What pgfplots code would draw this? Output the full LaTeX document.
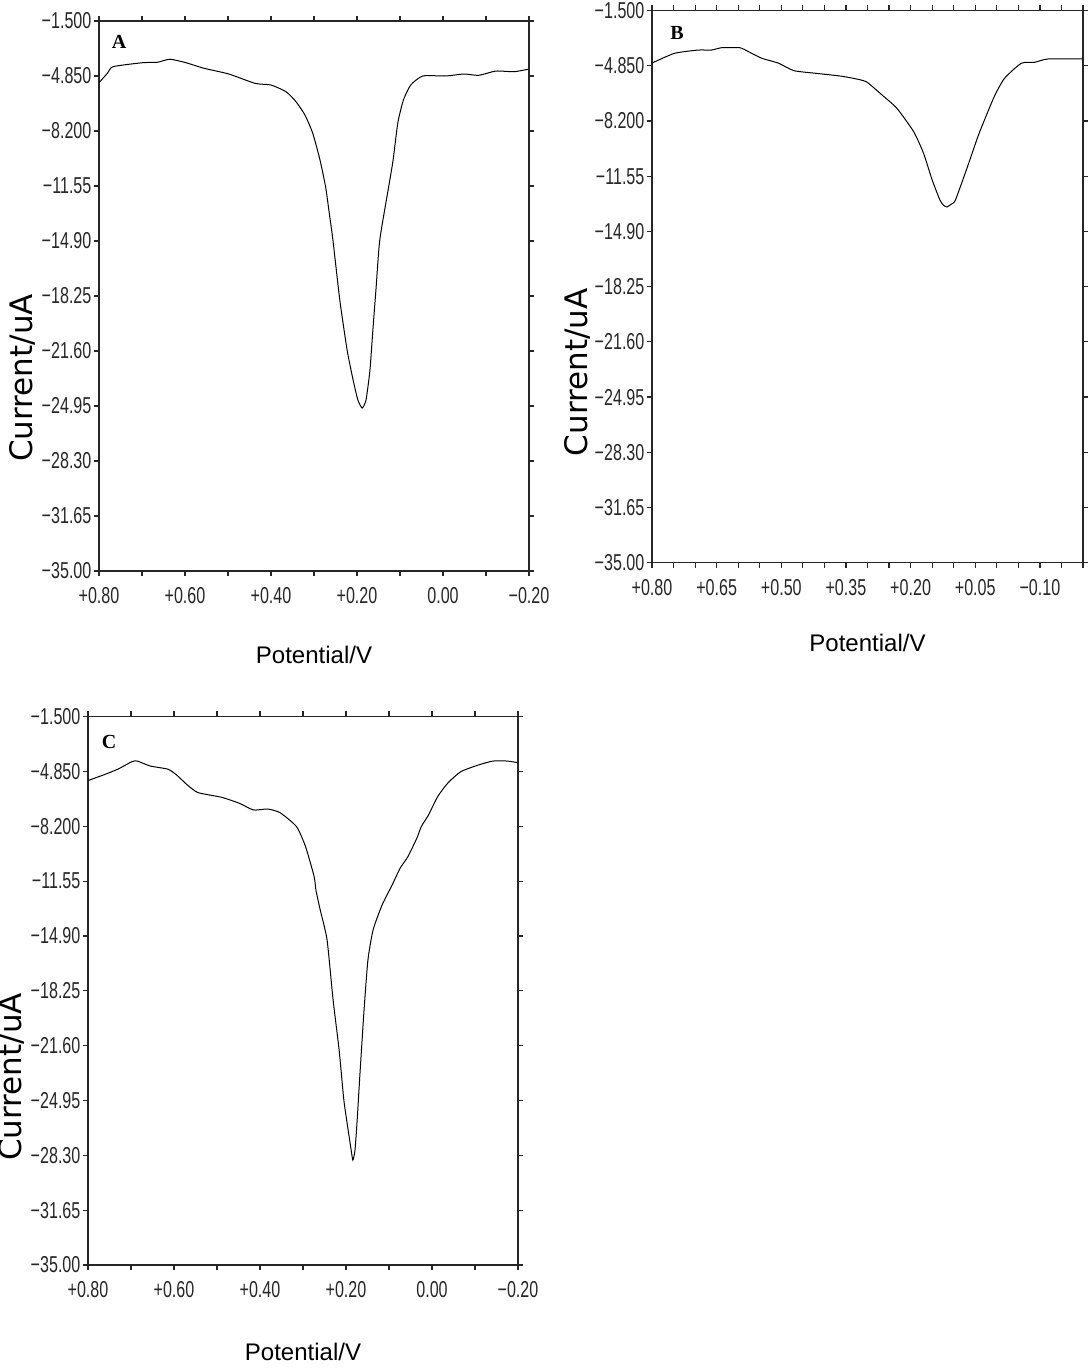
\documentclass[border=0pt]{standalone}
\usepackage{fontspec}
\setmainfont{Liberation Sans}
\newfontfamily\tickfont[FakeStretch=0.7]{Liberation Sans}
\newfontfamily\labfont{DejaVu Sans}
\newfontfamily\letfont{Liberation Serif}
\usepackage{pgfplots}
\pgfplotsset{compat=1.18}
\pgfplotsset{
  echem/.style={
    scale only axis, anchor=south west,
    xmin=-0.2, xmax=0.8, x dir=reverse,
    ymin=-35, ymax=-1.5,
    axis line style={line width=0.7pt, black!85},
    tick style={line width=0.6pt, black!85},
    tick align=outside,
    major tick length=2.6pt, minor tick length=2.6pt,
    ytick={-35,-31.65,-28.3,-24.95,-21.6,-18.25,-14.9,-11.55,-8.2,-4.85,-1.5},
    yticklabels={−35.00,−31.65,−28.30,−24.95,−21.60,−18.25,−14.90,−11.55,−8.200,−4.850,−1.500},
    ticklabel style={font=\tickfont\fontsize{11.5}{13}\selectfont, black!85},
    yticklabel style={inner xsep=1pt},
    xticklabel style={yshift=-2pt},
    xlabel={Potential/V},
    ylabel={Current/uA},
    xlabel style={font=\fontsize{12}{14}\selectfont, anchor=center},
    ylabel style={font=\labfont\fontsize{15.5}{18}\selectfont, anchor=center, rotate=0},
  },
  xA/.style={
    xtick={-0.2,0,0.2,0.4,0.6,0.8},
    xticklabels={−0.20,0.00,+0.20,+0.40,+0.60,+0.80},
    minor xtick={-0.1,0.1,0.3,0.5,0.7},
  },
  curve/.style={black, line width=0.5pt, smooth, tension=0.35},
}
\begin{document}
\begin{tikzpicture}
\path[use as bounding box] (0,0) rectangle (544.5pt,684.5pt);

% Panel A
\begin{axis}[echem, xA,
  at={(49.5pt,399pt)}, width=215pt, height=275pt,
  xlabel style={at={(axis description cs:0.5,-0.153)}},
  ylabel style={at={(axis description cs:-0.179,0.351)}},
]
\addplot[curve] coordinates {
(0.800,-5.26) (0.780,-4.67) (0.767,-4.28) (0.698,-4.04) (0.665,-4.02)
(0.635,-3.83) (0.598,-4.04) (0.556,-4.38) (0.498,-4.73) (0.437,-5.30)
(0.400,-5.40) (0.365,-5.81) (0.342,-6.41) (0.321,-7.23) (0.303,-8.33)
(0.286,-9.97) (0.273,-11.60) (0.265,-13.10) (0.256,-14.84) (0.240,-18.49)
(0.223,-21.54) (0.209,-23.37) (0.198,-24.58) (0.188,-25.07) (0.179,-24.58)
(0.170,-22.80) (0.163,-20.30) (0.156,-17.90) (0.147,-14.84) (0.126,-11.55)
(0.116,-9.97) (0.105,-7.70) (0.092,-6.31) (0.075,-5.40) (0.047,-4.85)
(-0.007,-4.85) (-0.049,-4.73) (-0.083,-4.81) (-0.123,-4.55) (-0.165,-4.59)
(-0.198,-4.44)
};
\node[font=\letfont\bfseries\fontsize{10}{12}\selectfont] at (axis description cs:0.047,0.962) {A};
\end{axis}

% Panel B
\begin{axis}[echem,
  at={(326pt,403.15pt)}, width=215.5pt, height=276pt,
  xtick={-0.1,0.05,0.2,0.35,0.5,0.65,0.8},
  xticklabels={−0.10,+0.05,+0.20,+0.35,+0.50,+0.65,+0.80},
  minor xtick={-0.2,-0.15,-0.05,0,0.1,0.15,0.25,0.3,0.4,0.45,0.55,0.6,0.7,0.75},
  xlabel style={at={(axis description cs:0.5,-0.145)}},
  ylabel style={at={(axis description cs:-0.174,0.345)}},
]
\addplot[curve] coordinates {
(0.800,-4.68) (0.748,-4.09) (0.693,-3.89) (0.662,-3.89) (0.639,-3.75)
(0.596,-3.75) (0.576,-3.99) (0.545,-4.39) (0.506,-4.69) (0.471,-5.14)
(0.420,-5.30) (0.365,-5.46) (0.334,-5.60) (0.303,-5.81) (0.271,-6.51)
(0.232,-7.42) (0.193,-8.84) (0.170,-10.15) (0.150,-11.77) (0.132,-12.99)
(0.124,-13.30) (0.116,-13.41) (0.106,-13.25) (0.096,-12.99) (0.068,-10.97)
(0.041,-8.94) (0.006,-6.72) (-0.018,-5.60) (-0.057,-4.69) (-0.088,-4.63)
(-0.119,-4.43) (-0.200,-4.43)
};
\node[font=\letfont\bfseries\fontsize{10}{12}\selectfont] at (axis description cs:0.058,0.96) {B};
\end{axis}

% Panel C
\begin{axis}[echem, xA,
  at={(44pt,52pt)}, width=215pt, height=274.15pt,
  xlabel style={at={(axis description cs:0.5,-0.159)}},
  ylabel style={at={(axis description cs:-0.177,0.343)}},
]
\addplot[curve] coordinates {
(0.800,-5.40) (0.764,-5.06) (0.730,-4.70) (0.698,-4.25) (0.685,-4.21)
(0.656,-4.51) (0.614,-4.71) (0.594,-5.06) (0.569,-5.67) (0.544,-6.14)
(0.490,-6.42) (0.448,-6.79) (0.415,-7.20) (0.382,-7.14) (0.353,-7.37)
(0.315,-8.22) (0.294,-9.44) (0.274,-11.28) (0.270,-12.09) (0.260,-13.30)
(0.244,-15.14) (0.230,-18.81) (0.216,-21.86) (0.205,-24.92) (0.195,-26.75)
(0.188,-27.97) (0.184,-28.59) (0.179,-27.97) (0.174,-26.14) (0.167,-23.09)
(0.158,-19.42) (0.149,-16.37) (0.137,-14.53) (0.116,-13.00) (0.093,-11.80)
(0.074,-10.75) (0.056,-10.05) (0.035,-8.91) (0.025,-8.22) (0.008,-7.50)
(-0.013,-6.39) (-0.037,-5.55) (-0.067,-4.86) (-0.108,-4.45) (-0.142,-4.21)
(-0.175,-4.21) (-0.200,-4.31)
};
\node[font=\letfont\bfseries\fontsize{10}{12}\selectfont] at (axis description cs:0.049,0.953) {C};
\end{axis}
\end{tikzpicture}
\end{document}
